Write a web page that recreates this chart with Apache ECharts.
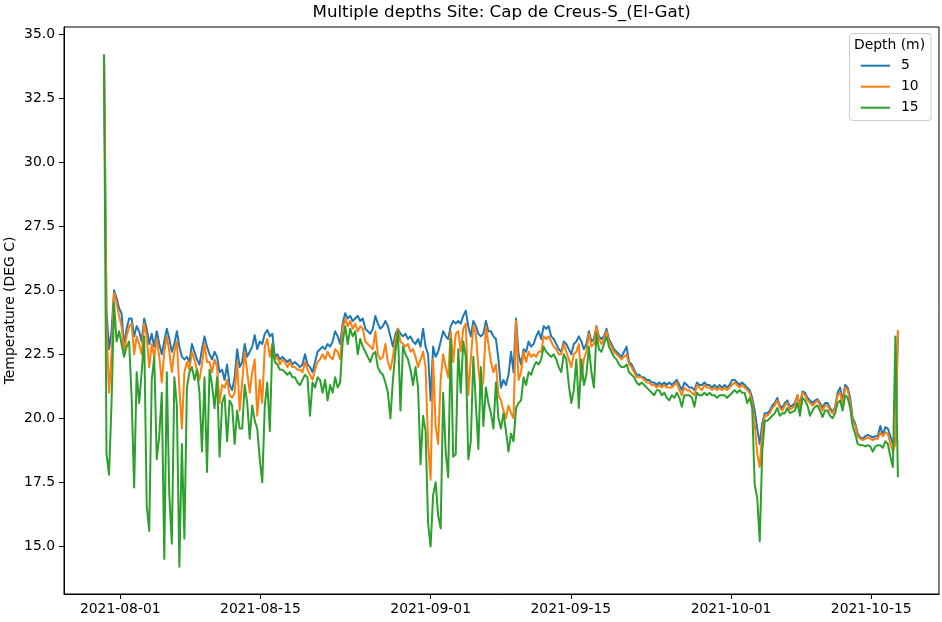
<!DOCTYPE html>
<html>
<head>
<meta charset="utf-8">
<script src="https://cdn.jsdelivr.net/npm/echarts@6/dist/echarts.min.js"></script>
<style>
html,body{margin:0;padding:0;background:#fff;}
#chart{width:942px;height:622px;}
</style>
</head>
<body>
<div id="chart"></div>
<script>
// ---- data (6-hourly samples) ----
const seriesNames = ['5', '10', '15'];
const startTime = Date.UTC(2021, 6, 30, 9);
const endTime = Date.UTC(2021, 9, 17, 16);
const xTickDates = ['2021-08-01', '2021-08-15', '2021-09-01', '2021-09-15', '2021-10-01', '2021-10-15'];
const yTickValues = [15, 17.5, 20, 22.5, 25, 27.5, 30, 32.5, 35];

const temp5 = [
34.2,24.2,22.7,23.4,25.0,24.7,24.3,24.1,22.8,23.5,23.9,23.9,23.2,23.6,23.4,23.0,23.9,23.5,22.9,23.3,22.8,23.4,22.9,22.5,23.0,23.5,23.1,22.6,22.9,23.4,22.8,22.4,22.3,22.4,22.2,22.9,22.6,22.3,22.1,22.7,23.2,22.8,22.5,22.3,22.6,22.4,21.8,
21.9,21.5,22.1,21.3,21.1,21.6,22.7,22.0,22.2,22.9,22.4,22.6,22.8,23.25,22.7,23.0,22.9,23.3,23.45,23.2,23.3,22.4,22.5,22.3,22.4,22.3,22.2,22.3,22.1,22.2,22.1,22.0,22.1,22.5,22.1,22.0,21.8,22.2,22.6,22.7,22.8,22.7,22.9,22.8,
23.0,23.4,23.2,22.9,23.7,24.1,23.9,24.0,23.8,23.9,24.0,23.8,23.9,23.5,23.4,23.3,23.5,24.0,23.7,23.5,23.6,23.8,23.6,23.2,22.8,23.3,23.5,23.3,23.2,23.3,23.1,23.2,23.0,22.9,23.1,22.8,23.5,22.8,22.5,20.7,22.8,22.4,22.6,23.0,
23.4,23.2,23.1,23.6,23.8,23.7,23.8,23.7,24.0,24.2,23.6,23.2,23.8,23.6,23.3,23.2,23.3,23.8,23.4,23.4,23.2,23.1,22.3,21.2,21.5,21.3,21.7,22.6,21.8,23.9,22.5,22.1,22.7,22.6,23.0,22.8,22.9,23.2,23.4,23.1,23.6,23.5,23.6,
23.2,23.1,22.9,22.7,22.6,23.0,22.9,22.7,22.5,22.9,23.0,23.2,23.0,22.7,22.9,23.4,23.0,23.1,23.6,23.2,23.1,23.2,23.5,23.1,22.9,22.7,22.6,22.5,22.4,22.6,22.8,22.2,22.1,21.9,21.7,21.7,21.6,21.6,21.5,21.5,21.4,21.4,21.3,
21.4,21.3,21.4,21.3,21.4,21.3,21.4,21.5,21.3,21.1,21.4,21.3,21.2,21.2,21.1,21.4,21.3,21.3,21.4,21.3,21.3,21.2,21.3,21.2,21.3,21.2,21.3,21.2,21.3,21.5,21.5,21.4,21.3,21.4,21.3,21.2,21.1,20.8,20.3,19.6,19.0,19.8,20.2,20.2,20.3,
20.5,20.6,20.8,20.5,20.4,20.6,20.7,20.45,20.5,20.6,20.9,20.5,21.05,21.0,20.8,20.7,20.6,20.7,20.75,20.6,20.4,20.6,20.6,20.4,20.25,20.45,21.0,21.2,20.7,21.3,21.2,20.8,20.0,19.8,19.4,19.25,19.2,19.3,19.35,19.3,19.25,19.3,19.3,19.7,19.35,19.65,19.6,19.3,19.0,19.2,23.4
];

const temp10 = [
34.2,23.6,21.0,22.5,24.9,24.5,24.0,23.6,22.6,23.2,23.6,23.7,22.5,23.2,22.9,22.5,23.7,23.2,22.0,22.9,22.4,23.1,22.4,21.4,22.6,23.2,22.6,21.8,22.6,23.0,21.2,19.6,21.8,22.2,21.9,22.6,22.3,21.9,21.5,22.1,22.9,22.2,22.2,21.8,22.3,22.0,20.6,
21.3,21.2,21.5,20.9,20.8,21.0,22.2,20.3,21.4,22.6,21.8,21.0,21.8,22.3,20.1,21.5,20.6,22.8,23.1,22.4,22.9,22.3,22.4,22.1,22.3,22.2,22.0,22.2,22.0,22.0,21.9,21.9,21.8,22.2,21.9,21.7,21.5,21.9,22.2,22.3,22.5,22.3,22.6,22.4,
22.3,22.7,22.6,22.3,23.5,23.9,23.6,23.8,23.5,23.7,23.4,23.6,23.5,23.0,22.9,22.8,22.7,23.4,22.5,22.3,22.4,22.9,22.2,21.9,22.4,23.1,23.5,23.0,22.9,22.8,22.9,22.6,22.7,22.4,22.0,22.3,22.6,22.0,19.0,17.6,22.3,19.7,19.0,21.5,
22.5,22.0,21.6,23.4,22.2,23.3,23.4,22.6,23.5,23.7,20.9,22.3,23.6,23.3,22.0,21.0,21.5,23.6,22.9,22.2,21.8,22.1,20.9,20.7,20.3,20.0,20.5,20.2,20.0,23.8,21.5,21.8,22.6,22.2,22.6,22.4,22.5,22.4,22.6,22.6,23.2,23.1,23.2,
23.0,22.8,22.7,22.5,22.5,22.9,22.6,22.3,22.0,22.5,22.6,22.9,21.5,22.3,22.6,23.3,22.8,22.9,23.6,23.1,22.9,23.1,23.4,23.0,22.8,22.6,22.5,22.4,22.3,22.4,22.5,22.1,22.0,21.8,21.6,21.6,21.6,21.5,21.4,21.4,21.3,21.3,21.2,
21.3,21.2,21.3,21.2,21.2,21.2,21.3,21.4,21.1,20.9,21.2,21.1,21.1,21.0,20.9,21.3,21.2,21.1,21.3,21.2,21.2,21.1,21.2,21.1,21.2,21.1,21.2,21.1,21.2,21.3,21.4,21.3,21.2,21.3,21.2,21.1,21.0,20.6,19.8,18.6,18.1,19.5,20.1,20.1,20.2,
20.4,20.5,20.7,20.4,20.3,20.5,20.6,20.35,20.4,20.5,20.9,20.4,21.0,20.9,20.7,20.6,20.5,20.6,20.7,20.5,20.3,20.5,20.5,20.3,20.2,20.4,20.9,21.0,20.5,21.2,21.1,20.6,19.9,19.7,19.3,19.2,19.15,19.2,19.25,19.2,19.15,19.2,19.2,19.45,19.3,19.45,19.4,19.0,18.7,19.0,23.45
];

const temp15 = [
34.2,18.6,17.8,20.6,24.5,23.0,23.4,22.9,22.4,22.8,23.0,20.8,17.3,21.8,20.6,21.8,23.2,16.6,15.6,21.5,22.4,18.4,19.3,21.0,14.5,21.8,17.0,15.1,21.6,20.5,14.2,19.0,15.3,21.2,21.8,22.0,21.5,21.9,21.0,18.7,21.6,17.9,21.9,21.3,20.4,21.6,18.5,
20.6,20.9,19.1,20.7,20.5,19.0,20.3,19.6,19.6,21.3,20.6,19.2,20.5,19.9,19.6,18.4,17.5,20.5,21.4,19.5,22.9,22.2,22.1,21.9,21.9,21.8,21.7,21.8,21.6,21.6,21.4,21.3,21.5,21.7,21.6,20.1,21.4,21.2,21.6,21.5,21.0,21.5,20.7,21.3,
21.0,21.6,21.2,21.4,23.0,23.6,22.9,23.5,23.2,23.4,22.5,23.1,22.8,22.6,22.4,22.2,22.5,22.6,22.0,21.8,21.7,21.4,21.0,20.0,21.5,22.6,23.4,20.3,22.8,22.5,22.3,21.9,21.3,22.0,21.2,18.2,20.1,19.5,15.9,15.0,17.0,17.5,16.2,15.7,
21.0,18.7,17.7,23.1,18.5,18.6,22.7,21.0,23.0,22.4,18.4,19.1,22.4,20.6,18.8,22.0,19.7,21.2,20.6,20.2,19.6,21.4,20.0,19.6,20.2,19.5,18.7,19.4,19.1,20.4,20.6,20.7,21.6,21.3,21.8,21.7,22.0,22.2,22.1,22.3,22.8,22.6,22.5,
22.4,22.5,22.3,22.0,21.8,22.5,22.3,21.3,20.6,21.1,22.3,20.4,22.3,21.3,21.7,22.8,21.8,21.2,23.3,22.7,22.6,22.9,23.2,22.8,22.6,22.4,22.3,22.1,22.0,22.0,22.1,21.8,21.7,21.6,21.4,21.3,21.4,21.3,21.2,21.1,21.0,20.9,21.1,
21.1,20.9,21.0,20.8,20.7,20.9,20.8,21.0,20.8,20.45,20.9,20.9,20.9,20.8,20.45,21.0,20.9,20.9,21.0,20.9,21.0,20.9,20.9,20.8,20.9,20.9,20.9,20.8,20.9,21.0,21.1,21.0,21.1,21.0,21.0,20.6,20.8,20.4,17.4,16.9,15.2,18.7,19.9,19.9,20.0,
20.1,20.2,20.4,20.1,20.2,20.2,20.4,20.2,20.25,20.3,20.6,20.1,20.8,20.7,20.5,20.1,20.3,20.45,20.5,20.3,20.05,20.3,20.3,20.1,20.0,20.2,20.6,20.7,20.3,20.9,20.8,20.4,19.7,19.4,19.0,18.95,18.95,18.9,18.95,18.9,18.7,18.9,18.95,18.95,18.85,19.1,19.0,18.5,18.1,23.2,17.7
];

// ---- chart ----
const DAY = 864e5;
const n = temp5.length;
const step = (endTime - startTime) / (n - 1);
const times = temp5.map((_, i) => startTime + i * step);
const xMin = Date.UTC(2021, 7, 1) - 5.62 * DAY;
const xMax = xMin + 87.39 * DAY;
const xTicks = xTickDates.map(d => Date.parse(d + 'T00:00:00Z'));
const colors = ['#1f77b4', '#ff7f0e', '#2ca02c'];
const allValues = [temp5, temp10, temp15];
const FONT = 'DejaVu Sans';

const chart = echarts.init(document.getElementById('chart'), null, {renderer: 'canvas'});
chart.setOption({
  animation: false,
  backgroundColor: '#ffffff',
  textStyle: {fontFamily: FONT},
  grid: {left: 64, right: 3, top: 27, bottom: 28, show: true, borderColor: '#000', borderWidth: 1,
         backgroundColor: 'transparent', containLabel: false, outerBoundsMode: 'none'},
  graphic: [
    {type: 'text', x: 501.6, y: 12.5, z: 10,
     style: {text: 'Multiple depths Site: Cap de Creus-S_(El-Gat)', font: '16.7px "DejaVu Sans"', fill: '#000', textAlign: 'center', textVerticalAlign: 'middle'}},
    {type: 'rect', z: 3, shape: {x: 849.5, y: 33.5, width: 81.5, height: 87, r: 3},
     style: {fill: 'rgba(255,255,255,0.8)', stroke: '#cccccc', lineWidth: 1}},
    {type: 'text', z: 10, x: 889.5, y: 45,
     style: {text: 'Depth (m)', font: '13.9px "DejaVu Sans"', fill: '#000', textAlign: 'center', textVerticalAlign: 'middle'}}
  ],
  legend: {
    z: 6,
    orient: 'vertical',
    left: 860.7,
    top: 58.7,
    itemWidth: 29.3,
    itemHeight: 2,
    itemGap: 7,
    icon: 'rect',
    padding: 0,
    selectedMode: false,
    textStyle: {fontFamily: FONT, fontSize: 13.9, color: '#000', lineHeight: 14, padding: [0, 0, 0, 6]},
    data: seriesNames
  },
  xAxis: {
    type: 'value',
    min: xMin,
    max: xMax,
    splitLine: {show: false},
    axisLine: {lineStyle: {color: '#000', width: 1}},
    axisTick: {show: true, length: 5, customValues: xTicks, lineStyle: {color: '#000', width: 1}},
    axisLabel: {customValues: xTicks, margin: 8, fontSize: 13.9, color: '#000', fontFamily: FONT,
      formatter: v => new Date(v).toISOString().slice(0, 10), hideOverlap: false, showMinLabel: true, showMaxLabel: true}
  },
  yAxis: {
    type: 'value',
    min: 13.137,
    max: 35.285,
    name: 'Temperature (DEG C)',
    nameLocation: 'middle',
    nameGap: 47,
    nameMoveOverlap: false,
    nameTextStyle: {fontSize: 13.9, color: '#000', fontFamily: FONT},
    splitLine: {show: false},
    axisLine: {show: true, lineStyle: {color: '#000', width: 1}},
    axisTick: {show: true, length: 5, customValues: yTickValues, lineStyle: {color: '#000', width: 1}},
    axisLabel: {customValues: yTickValues, margin: 9, fontSize: 13.9, color: '#000', fontFamily: FONT,
      formatter: v => Number(v).toFixed(1)}
  },
  series: seriesNames.map((name, k) => ({
    name: name,
    type: 'line',
    showSymbol: false,
    symbol: 'none',
    sampling: null,
    color: colors[k],
    lineStyle: {width: 2, color: colors[k], join: 'round'},
    data: times.map((t, i) => [t, allValues[k][i]])
  }))
});
</script>
</body>
</html>
